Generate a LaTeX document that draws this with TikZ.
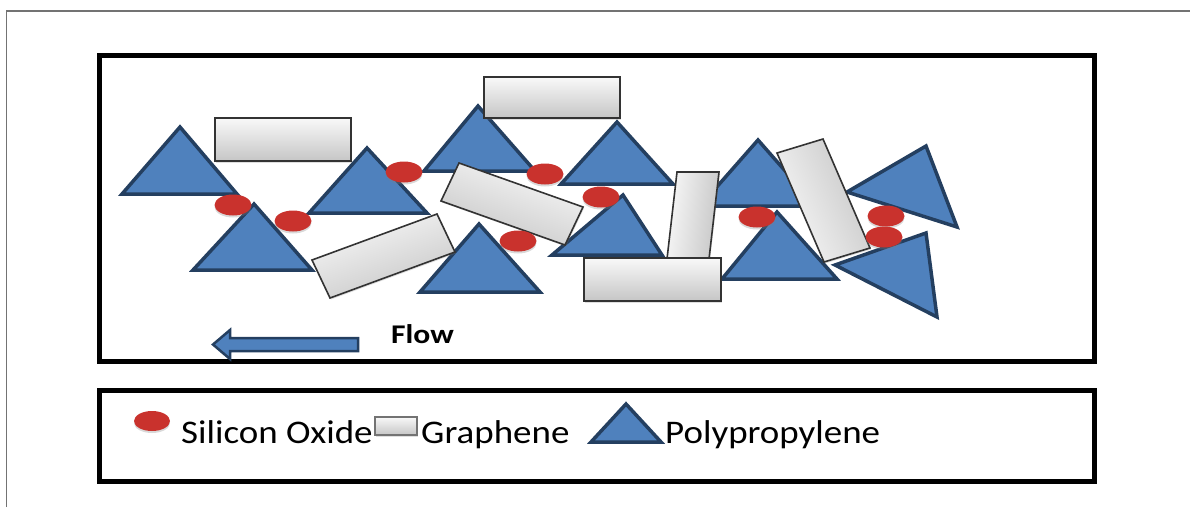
\documentclass[tikz,border=0pt]{standalone}
\usepackage{fontspec}
\setmainfont{Carlito}
\usetikzlibrary{shapes.geometric, shadows}
\definecolor{ppblue}{RGB}{79,129,189}
\definecolor{ppnavy}{RGB}{36,63,96}
\definecolor{oxred}{RGB}{201,50,45}
\tikzstyle{boxline} = [black, line width=5]
\tikzstyle{poly} = [draw=ppnavy, fill=ppblue, line width=3.5, line join=miter]
\tikzstyle{sheet} = [draw=black!80, line width=1.6, top color=gray!5, bottom color=gray!45, drop shadow={opacity=0.25, shadow xshift=1pt, shadow yshift=-1.5pt}]
\tikzstyle{oxide} = [ellipse, fill=oxred, minimum width=37pt, minimum height=21pt, inner sep=0pt, drop shadow={opacity=0.3, shadow xshift=0pt, shadow yshift=-2pt}]
\tikzstyle{legtext} = [anchor=base west, inner sep=0pt, font=\fontsize{33}{40}\selectfont]
\tikzstyle{flowarrow} = [draw=ppnavy, fill=ppblue, line width=2.5, line join=miter]

\begin{document}
\begin{tikzpicture}[x=1pt, y=-1pt]
    \useasboundingbox (0,0) rectangle (1190,507);
    \draw [black!55, line width=1.5] (6.5,507) |- (1190,11);
    \draw [boxline] (99,55) rectangle (1094,361);
    \draw [boxline] (99,390.5) rectangle (1094,481);
    \foreach \ax/\ay/\bx/\by/\cx/\cy in {122/194/237/194/180/127, 193/270/312/270/254/204, 309/213/427/213/367/148, 424/171/535/171/478/106, 561/184/673/184/617/122, 420/292/540/292/479/224, 552/255/662/255/623/195, 700/206/816/206/758/140, 722/279/837/279/777/212, 847/192/926/146/957/227, 835/265/926/233/937/317}
        \draw [poly] (\ax,\ay) -- (\bx,\by) -- (\cx,\cy) -- cycle;
    \path [sheet] (215,118) rectangle (351,161);
    \path [sheet] (484,77) rectangle (620,118);
    \path [sheet, shading angle=-20] (459,163) -- (583,207) -- (565,245) -- (441,201) -- cycle;
    \path [sheet, shading angle=20] (312,260) -- (437,214) -- (455,252) -- (330,298) -- cycle;
    \path [sheet, shading angle=83] (677,172) -- (719,172) -- (709,259) -- (667,259) -- cycle;
    \path [sheet] (584,258) rectangle (721,301);
    \path [sheet, shading angle=113] (777,153) -- (823,139) -- (870,248) -- (824,262) -- cycle;
    \node (d1) [oxide] at (233,205) {};
    \node (d2) [oxide] at (293,221) {};
    \node (d3) [oxide] at (404,172) {};
    \node (d4) [oxide] at (545,174) {};
    \node (d5) [oxide] at (601,197) {};
    \node (d6) [oxide] at (518,241) {};
    \node (d7) [oxide] at (757,217) {};
    \node (d8) [oxide] at (886,216) {};
    \node (d9) [oxide] at (884,237) {};
    \draw [flowarrow] (213,344.5) -- (230,330) -- (230,338) -- (358,338) -- (358,351) -- (230,351) -- (230,359) -- cycle;
    \node (flow) [anchor=base west, inner sep=0pt, font=\bfseries\fontsize{27}{32}\selectfont] at (391,343) {\scalebox{1.17}[1]{Flow}};
    \node (lgdot) [oxide, minimum width=36pt, minimum height=20pt] at (152,421) {};
    \node (lgsio) [legtext] at (181,443) {\scalebox{1.12}[1]{Silicon Oxide}};
    \path [sheet, draw=black!55, line width=1.2] (375,417) rectangle (417,435);
    \node (lggra) [legtext] at (421,443) {\scalebox{1.12}[1]{Graphene}};
    \draw [poly] (591,442) -- (661,442) -- (626,404) -- cycle;
    \node (lgpp) [legtext] at (665,443) {\scalebox{1.12}[1]{Polypropylene}};
\end{tikzpicture}
\end{document}
